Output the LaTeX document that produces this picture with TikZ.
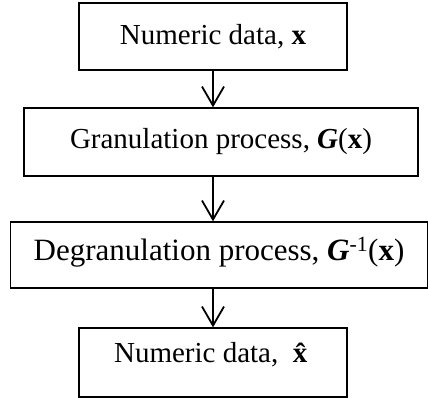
\documentclass[tikz,border=0pt]{standalone}
\usepackage{fontspec}
\setmainfont{Liberation Serif}
\usetikzlibrary{arrows.meta}
\begin{document}
\begin{tikzpicture}[x=1pt,y=-1pt,
  box/.style={draw,line width=1.3pt,inner sep=0pt,font=\fontsize{29}{32}\selectfont},
  conn/.style={line width=1.8pt,-{Straight Barb[length=19pt,width=22pt,line width=1.8pt]}}]
\useasboundingbox (0,0) rectangle (428,398);
\node[box,minimum width=268pt,minimum height=67pt] (a) at (213,36.5) {Numeric data, \textbf{x}};
\node[box,minimum width=394pt,minimum height=68pt] (b) at (221,142) {Granulation process, \textbf{\itshape G}(\textbf{x})};
\node[box,minimum width=417pt,minimum height=66pt,text depth=12pt,font=\fontsize{31}{34}\selectfont] (c) at (219,255) {Degranulation process, \textbf{\itshape G}\textsuperscript{-1}(\textbf{x})};
\node[box,minimum width=268pt,minimum height=69pt,text depth=20pt] (d) at (213,362.5) {Numeric data, ~\textbf{\^x}};
\draw[conn] (a.south -| 213,0) -- (b.north -| 213,0);
\draw[conn] (b.south -| 213,0) -- (c.north -| 213,0);
\draw[conn] (c.south -| 213,0) -- (d.north -| 213,0);
\end{tikzpicture}
\end{document}
